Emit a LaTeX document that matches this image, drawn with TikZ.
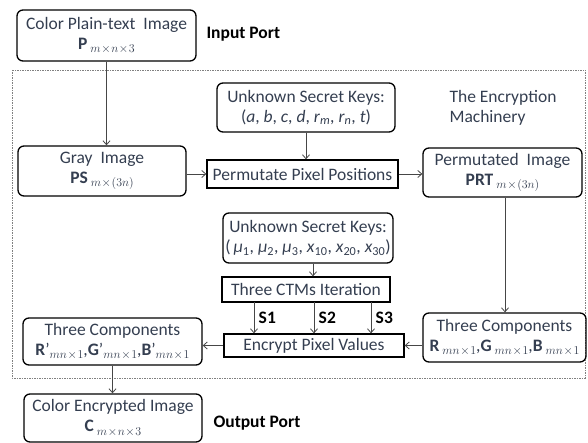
\documentclass[tikz,border=0pt]{standalone}
\usepackage{fontspec}
\setmainfont{Carlito}
\usetikzlibrary{arrows.meta}
\definecolor{txt}{RGB}{52,62,80}
\definecolor{ln}{RGB}{70,70,70}
% lowered math subscript with tight operator spacing
\newcommand{\sbs}[1]{\raisebox{-3.5pt}{\fontsize{11.5}{12}\selectfont$\medmuskip=1mu #1$}}
\begin{document}
\begin{tikzpicture}[x=1pt,y=-1pt,
  every node/.style={font=\fontsize{17.5}{20}\selectfont, text=txt},
  rbox/.style={draw=black, line width=1.3pt, rounded corners=6pt, align=center, inner sep=0pt},
  sbox/.style={draw=black, line width=1.3pt, align=center, inner sep=0pt},
  arr/.style={draw=ln, line width=0.8pt, -{Straight Barb[length=4pt,width=7pt]}},
  lbl/.style={font=\bfseries\fontsize{17.5}{20}\selectfont, text=black}]
\useasboundingbox (0,0) rectangle (588,443);
% encryption machinery frame
\draw[gray, line width=0.8pt, dash pattern=on 1.5pt off 1pt] (12,70) rectangle (585,378);
\node[align=left, anchor=west] (title) at (446,107.5) {The Encryption\\Machinery};

% boxes
\node[rbox, minimum width=179pt, minimum height=51pt] (inp) at (106.5,35.5)
  {Color Plain-text\ \ Image\\\textbf{P}\,\sbs{m\times n\times 3}};
\node[lbl, anchor=west] (inport) at (203,34) {Input Port};

\node[rbox, minimum width=178pt, minimum height=49pt] (keys1) at (306,107.5)
  {Unknown Secret Keys:\\(\textit{a}, \textit{b}, \textit{c}, \textit{d}, \textit{r}\textsubscript{\textit{m}}, \textit{r}\textsubscript{\textit{n}}, \textit{t})};
\node[sbox, minimum width=191pt, minimum height=28pt] (perm) at (302.5,174) {Permutate Pixel Positions};
\node[rbox, minimum width=168pt, minimum height=50pt] (gray) at (102,171)
  {Gray\ \ Image\\\textbf{PS}\,\sbs{m\times(3n)}};
\node[rbox, minimum width=159pt, minimum height=49pt] (prt) at (502.5,172.5)
  {Permutated\ \ Image\\\textbf{PRT}\,\sbs{m\times(3n)}};

\node[rbox, minimum width=170pt, minimum height=50pt] (keys2) at (308,238)
  {Unknown Secret Keys:\\(\,\textit{μ}\textsubscript{1}, \textit{μ}\textsubscript{2}, \textit{μ}\textsubscript{3}, \textit{x}\textsubscript{10}, \textit{x}\textsubscript{20}, \textit{x}\textsubscript{30})};
\node[sbox, minimum width=168pt, minimum height=25pt] (ctm) at (306,289.5) {Three CTMs Iteration};
\node[sbox, minimum width=180pt, minimum height=23pt] (enc) at (314,345.5) {Encrypt Pixel Values};

\node[rbox, minimum width=163pt, minimum height=49pt] (rgb) at (504.5,337.5)
  {Three Components\\\textbf{R}\,\sbs{mn\times1},\textbf{G}\,\sbs{mn\times1},\textbf{B}\,\sbs{mn\times1}};
\node[rbox, minimum width=179pt, minimum height=47pt] (rgbp) at (112.5,341.5)
  {Three Components\\\textbf{R}\textquoteright\sbs{mn\times1},\textbf{G}\textquoteright\sbs{mn\times1},\textbf{B}\textquoteright\sbs{mn\times1}};

\node[rbox, minimum width=178pt, minimum height=48pt] (out) at (113,418)
  {Color Encrypted Image\\\textbf{C}\,\sbs{m\times n\times 3}};
\node[lbl, anchor=west] (outport) at (210,423) {Output Port};

% connectors
\draw[arr] (inp.south) -- (inp.south |- gray.north);
\draw[arr] (keys1.south) -- (keys1.south |- perm.north);
\draw[arr] (gray.east |- perm.west) -- (perm.west);
\draw[arr] (perm.east) -- (perm.east -| prt.west);
\draw[arr] ([xshift=2.5pt]prt.south) -- ([xshift=2.5pt]prt.south |- rgb.north);
\draw[arr] ([xshift=5pt]keys2.south) -- ([xshift=5pt]keys2.south |- ctm.north);
\coordinate (s1) at (254,302);
\coordinate (s2) at (314,302);
\coordinate (s3) at (371,302);
\draw[arr] (s1) -- (s1 |- enc.north) node[lbl, midway, right=1pt] {S1};
\draw[arr] (s2) -- (s2 |- enc.north) node[lbl, midway, right=1pt] {S2};
\draw[arr] (s3) -- (s3 |- enc.north) node[lbl, midway, right=1pt] {S3};
\draw[arr] (rgb.west |- enc.east) -- (enc.east);
\draw[arr] (enc.west) -- (enc.west -| rgbp.east);
\draw[arr] (rgbp.south) -- (rgbp.south |- out.north);
\end{tikzpicture}
\end{document}
